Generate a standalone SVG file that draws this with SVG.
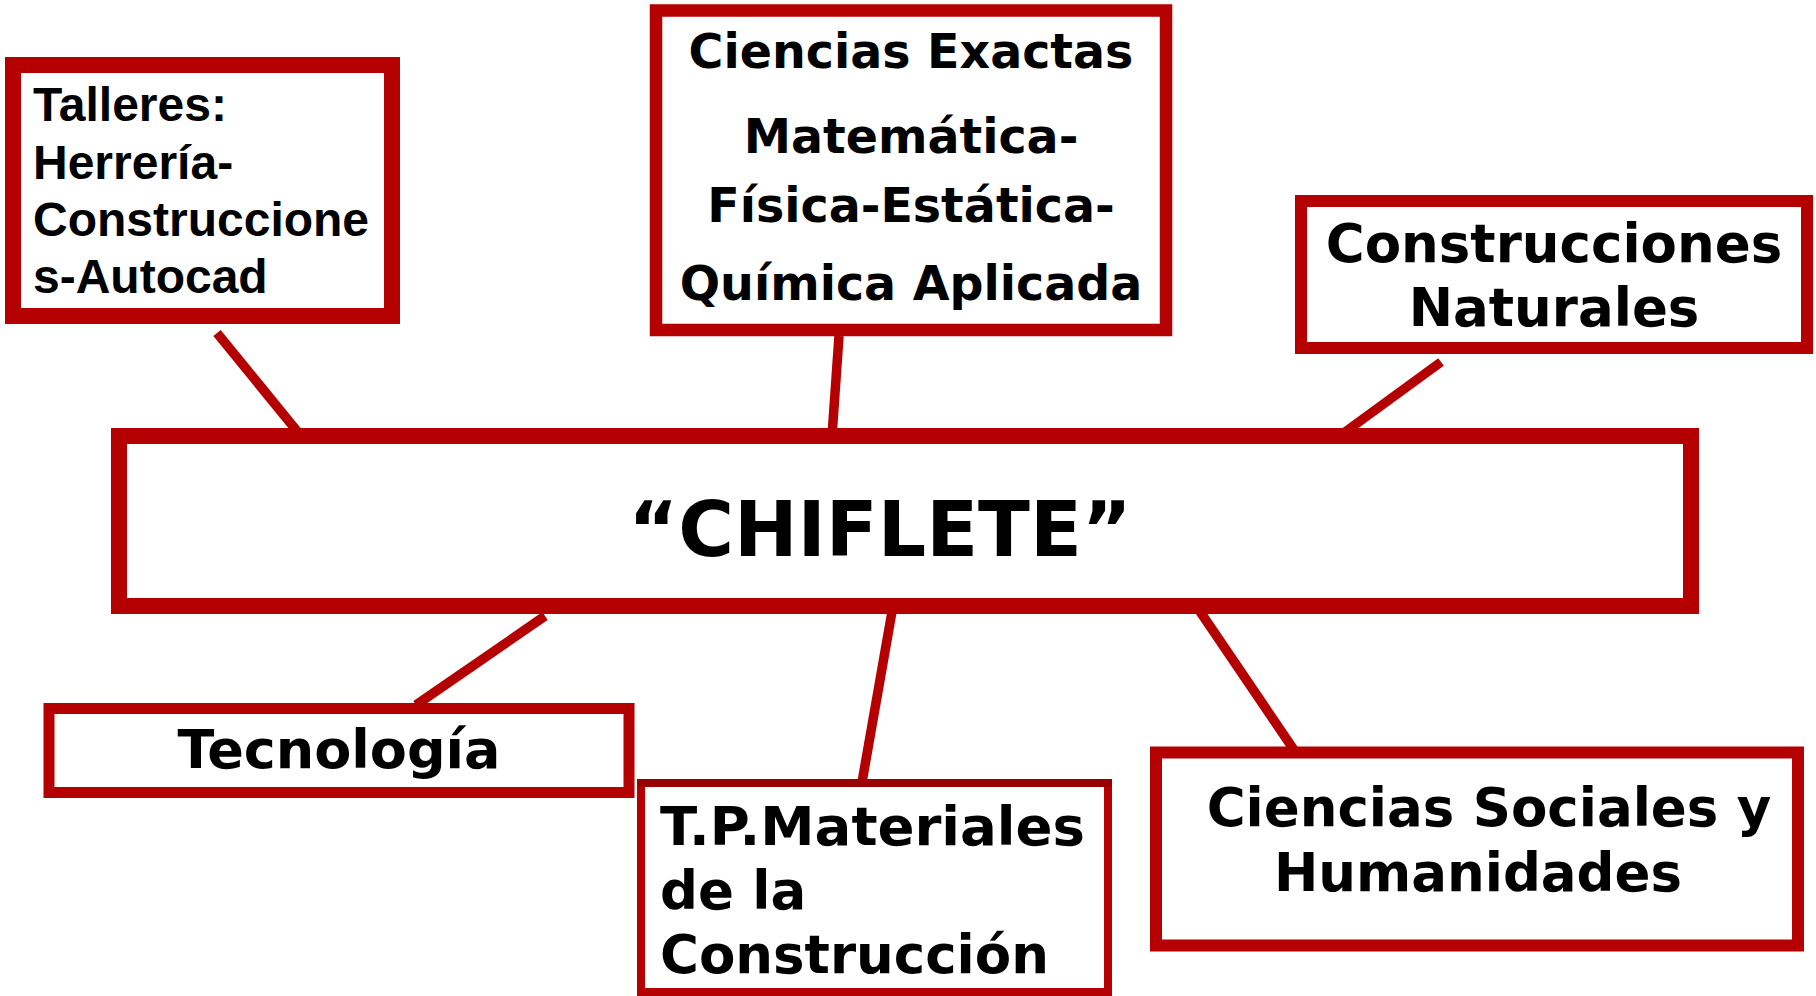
<svg xmlns="http://www.w3.org/2000/svg" width="1816" height="996" viewBox="0 0 1816 996">
<style>
.box{fill:#fff;stroke:#b40000}
.ln{stroke:#b40000;stroke-width:9.5;fill:none}
.ar{font-family:"Liberation Sans",Arial,sans-serif;font-weight:bold;fill:#000}
.vd{font-family:"DejaVu Sans",Verdana,sans-serif;font-weight:bold;fill:#000}
</style>
<rect width="1816" height="996" fill="#fff"/>
<g id="connectors">
<line class="ln" x1="217" y1="333" x2="301" y2="436"/>
<line class="ln" x1="839" y1="336" x2="832" y2="436"/>
<line class="ln" x1="1441" y1="362" x2="1330" y2="443"/>
<line class="ln" x1="545" y1="616" x2="416" y2="705"/>
<line class="ln" x1="893" y1="606" x2="861" y2="788"/>
<line class="ln" x1="1199" y1="610" x2="1294" y2="750"/>
</g>
<g id="node-talleres">
<rect class="box" x="13" y="65" width="379" height="251" stroke-width="16"/>
<text class="ar" font-size="48" x="33"><tspan x="33" y="121">Talleres:</tspan><tspan x="33" y="179">Herrería-</tspan><tspan x="33" y="236">Construccione</tspan><tspan x="33" y="293">s-Autocad</tspan></text>
</g>
<g id="node-ciencias-exactas">
<rect class="box" x="656" y="10.5" width="510" height="319.5" stroke-width="12.5"/>
<text class="vd" font-size="47.5" text-anchor="middle"><tspan x="911" y="68">Ciencias Exactas</tspan><tspan x="911" y="153">Matemática-</tspan><tspan x="911" y="222">Física-Estática-</tspan><tspan x="911" y="300">Química Aplicada</tspan></text>
</g>
<g id="node-construcciones-naturales">
<rect class="box" x="1301" y="201" width="506" height="147" stroke-width="12"/>
<text class="vd" font-size="53" text-anchor="middle"><tspan x="1554" y="262">Construcciones</tspan><tspan x="1554" y="326">Naturales</tspan></text>
</g>
<g id="node-chiflete">
<rect class="box" x="119" y="436" width="1572" height="170" stroke-width="16"/>
<text class="vd" font-size="76" text-anchor="middle" x="880" y="556">“CHIFLETE”</text>
</g>
<g id="node-tecnologia">
<rect class="box" x="49" y="708.5" width="580" height="84" stroke-width="11"/>
<text class="vd" font-size="54" text-anchor="middle" x="339" y="768">Tecnología</text>
</g>
<g id="node-tp-materiales">
<rect class="box" x="641" y="783" width="467" height="209" stroke-width="8"/>
<line x1="637" y1="783" x2="1112" y2="783" stroke="#9a0000" stroke-width="8"/>
<text class="vd" font-size="53"><tspan x="660" y="845" textLength="425" lengthAdjust="spacingAndGlyphs">T.P.Materiales</tspan><tspan x="660" y="909">de la</tspan><tspan x="660" y="973">Construcción</tspan></text>
</g>
<g id="node-ciencias-sociales">
<rect class="box" x="1156" y="752.5" width="642" height="193" stroke-width="12"/>
<text class="vd" font-size="53" text-anchor="middle"><tspan x="1489" y="826">Ciencias Sociales y</tspan><tspan x="1478" y="891">Humanidades</tspan></text>
</g>
</svg>
